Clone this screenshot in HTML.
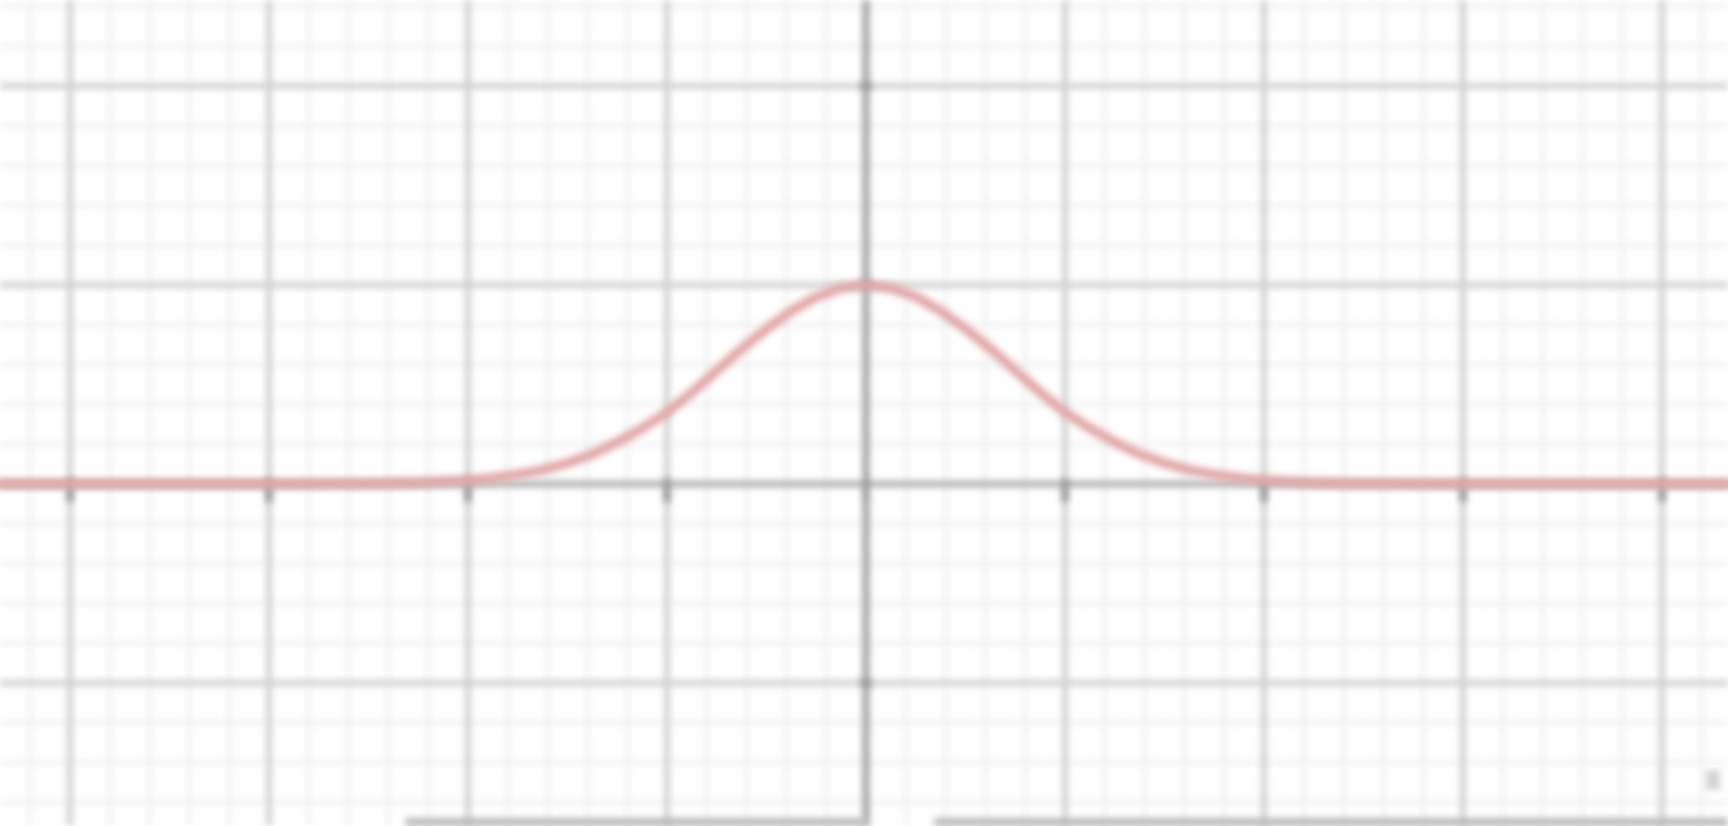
<!DOCTYPE html>
<html><head><meta charset="utf-8"><style>
html,body{margin:0;padding:0;background:#fff;overflow:hidden;width:1728px;height:826px}
svg{display:block}
</style></head><body>
<svg id="chart" width="1728" height="826" viewBox="0 0 1728 826" xmlns="http://www.w3.org/2000/svg">
<defs><filter id="b" x="-5%" y="-5%" width="110%" height="110%"><feGaussianBlur stdDeviation="3.5"/></filter></defs>
<rect width="1728" height="826" fill="#fff"/>
<g id="minor" filter="url(#b)"></g>
<g id="major" filter="url(#b)"></g>
<g id="axes" filter="url(#b)"></g>
<g id="curve" filter="url(#b)"></g>
<g filter="url(#b)">
<rect x="405" y="818" width="460" height="8" fill="#b8b8b8"/>
<rect x="934" y="818" width="794" height="8" fill="#b8b8b8"/>
<rect x="1706" y="770" width="14" height="20" fill="#d4d4d4"/>
</g>
</svg>
<script>
const xValues=[-4.5,-3,-2.5,-2.25,-2,-1.875,-1.75,-1.625,-1.5,-1.375,-1.25,-1.125,-1,-0.875,-0.75,-0.625,-0.5,-0.375,-0.25,-0.125,0,0.125,0.25,0.375,0.5,0.625,0.75,0.875,1,1.125,1.25,1.375,1.5,1.625,1.75,1.875,2,2.25,2.5,3,4.5];
const yValues=[0,0,0.002,0.007,0.018,0.03,0.047,0.071,0.105,0.15,0.21,0.28,0.36,0.46,0.57,0.68,0.78,0.87,0.94,0.985,1,0.985,0.94,0.87,0.78,0.68,0.57,0.46,0.36,0.28,0.21,0.15,0.105,0.071,0.047,0.03,0.018,0.007,0.002,0,0];
const xTicks=[-4,-3,-2,-1,0,1,2,3,4];
const yTicks=[-1,0,1,2];
const NS="http://www.w3.org/2000/svg";
const X=v=>866+199*v, Y=v=>484-199*v;
function line(g,x1,y1,x2,y2,c,w,name){const l=document.createElementNS(NS,'line');
l.setAttribute('x1',x1);l.setAttribute('y1',y1);l.setAttribute('x2',x2);l.setAttribute('y2',y2);
l.setAttribute('stroke',c);l.setAttribute('stroke-width',w);


g.appendChild(l);}
const mi=document.getElementById('minor'),ma=document.getElementById('major'),ax=document.getElementById('axes');
for(let k=-25;k<=25;k++){const v=k/5;if(k%5===0)continue;
line(mi,X(v),0,X(v),826,'#ececec',3,'minor-grid-x');line(mi,0,Y(v),1728,Y(v),'#ececec',3,'minor-grid-y');}
xTicks.forEach(v=>{if(v!==0)line(ma,X(v),0,X(v),826,'#d0d0d0',6,'major-grid-x');});
yTicks.forEach(v=>{if(v!==0)line(ma,0,Y(v),1728,Y(v),'#d0d0d0',6,'major-grid-y');});
line(ax,0,Y(0),1728,Y(0),'#b4b4b4',7,'x-axis');
line(ax,X(0),0,X(0),826,'#aaaaaa',8,'y-axis');
xTicks.forEach(v=>line(ax,X(v),Y(0)-6,X(v),Y(0)+18,'#9c9c9c',7,'x-tick'));
yTicks.forEach(v=>{if(v!==0)line(ax,X(0)-6,Y(v),X(0)+6,Y(v),'#9c9c9c',8,'y-tick');});
const p=document.createElementNS(NS,'path');
p.setAttribute('d',xValues.map((x,i)=>(i?'L':'M')+X(x).toFixed(1)+','+Y(yValues[i]).toFixed(1)).join(''));
p.setAttribute('fill','none');p.setAttribute('stroke','#e2a8a8');p.setAttribute('stroke-width','10');p.setAttribute('stroke-linejoin','round');


document.getElementById('curve').appendChild(p);
</script>
</body></html>
